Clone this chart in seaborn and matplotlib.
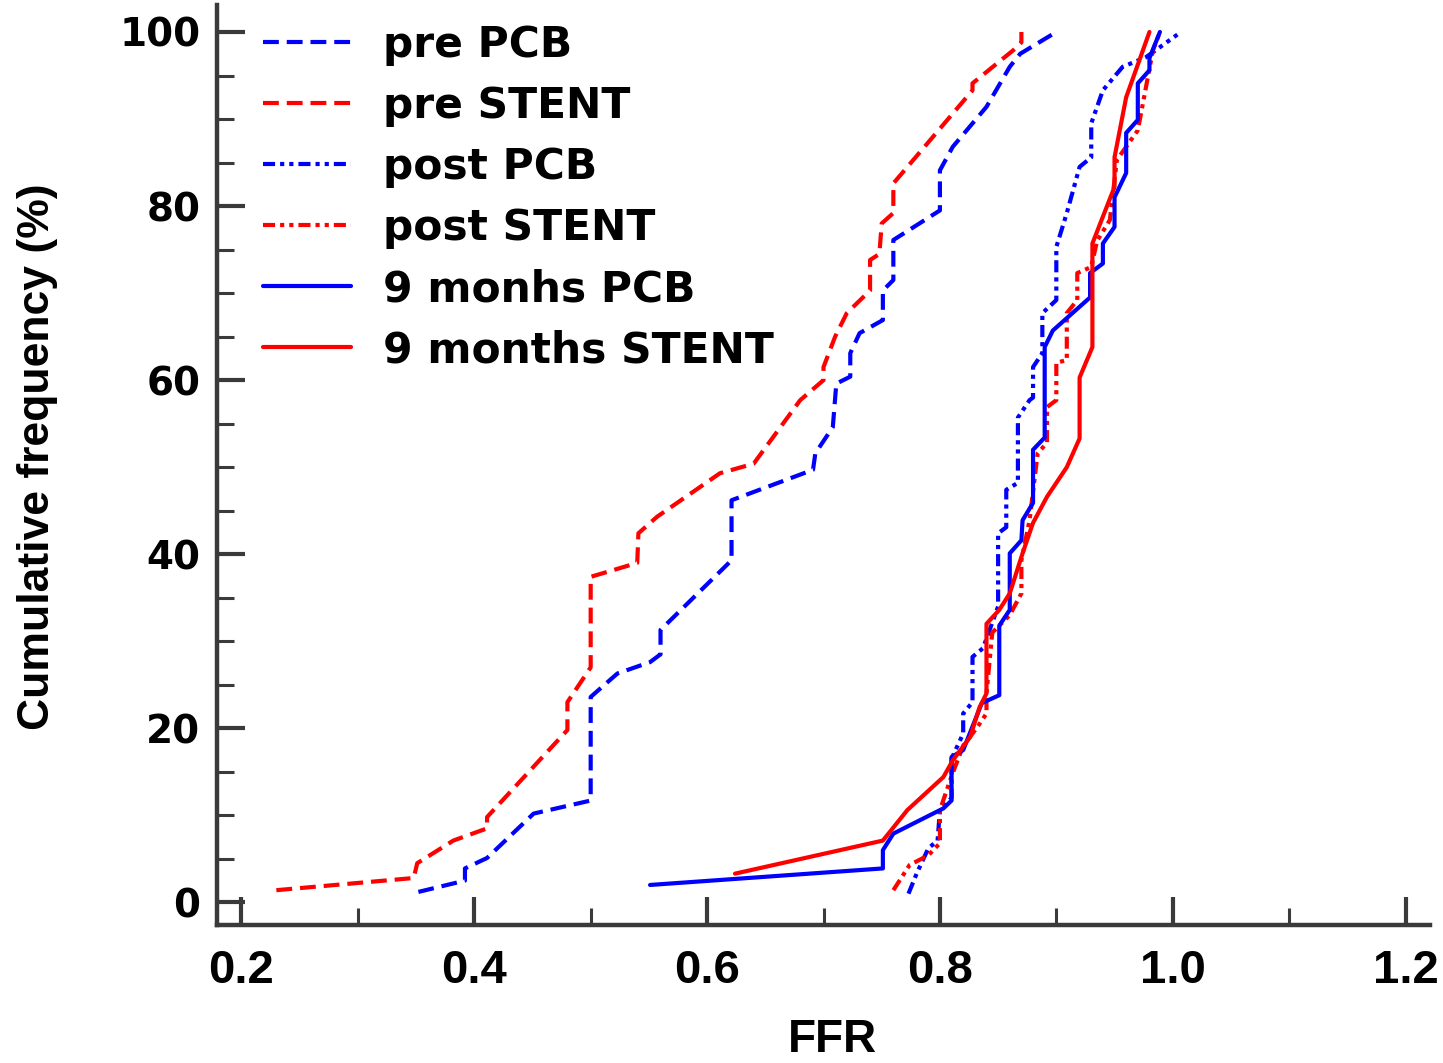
import matplotlib
matplotlib.use("Agg")
import matplotlib.pyplot as plt
import seaborn as sns
import pandas as pd
from matplotlib.ticker import MultipleLocator
from matplotlib.lines import Line2D

# ---------------- data ----------------
series_names = ["pre PCB", "pre STENT", "post PCB", "post STENT",
                "9 monhs PCB", "9 months STENT"]

pre_pcb_ffr = [0.352, 0.392, 0.392, 0.411, 0.451, 0.50, 0.50, 0.523, 0.551, 0.56, 0.56,
               0.621, 0.621, 0.651, 0.691, 0.693, 0.708, 0.711, 0.723, 0.723, 0.731,
               0.751, 0.751, 0.76, 0.76, 0.80, 0.80, 0.811, 0.84, 0.86, 0.869, 0.90]
pre_pcb_cum = [1.2, 2.5, 3.9, 5.1, 10.2, 11.7, 23.6, 26.3, 27.6, 28.5, 31.3,
               39.3, 46.2, 47.7, 49.7, 51.6, 54.6, 59.6, 60.4, 63.1, 65.4,
               66.9, 70.3, 71.5, 76.1, 79.5, 84.1, 86.8, 91.4, 96.0, 97.5, 100.0]

pre_stent_ffr = [0.23, 0.348, 0.351, 0.382, 0.411, 0.411, 0.48, 0.48, 0.50, 0.50, 0.54,
                 0.541, 0.557, 0.611, 0.64, 0.68, 0.70, 0.70, 0.71, 0.72, 0.74, 0.74,
                 0.748, 0.75, 0.76, 0.76, 0.828, 0.828, 0.863, 0.87, 0.87]
pre_stent_cum = [1.4, 2.8, 4.5, 7.1, 8.5, 9.8, 19.8, 23.0, 27.0, 37.4, 39.0,
                 42.4, 44.3, 49.3, 50.4, 57.7, 60.0, 61.5, 65.0, 67.7, 70.3, 73.8,
                 74.5, 78.0, 79.2, 82.6, 93.3, 94.1, 97.9, 98.8, 100.0]

post_pcb_ffr = [0.773, 0.78, 0.79, 0.798, 0.80, 0.81, 0.81, 0.82, 0.82, 0.828, 0.828,
                0.837, 0.85, 0.85, 0.857, 0.857, 0.867, 0.867, 0.877, 0.88, 0.88,
                0.888, 0.888, 0.90, 0.90, 0.909, 0.92, 0.93, 0.93, 0.94, 0.957,
                0.977, 1.004]
post_pcb_cum = [1.0, 3.3, 6.2, 7.1, 10.6, 12.0, 16.5, 19.4, 21.7, 23.0, 28.2,
                29.2, 34.0, 42.4, 43.1, 47.4, 48.2, 55.7, 57.7, 58.0, 61.5,
                63.1, 67.7, 69.2, 75.3, 79.2, 84.5, 85.6, 89.5, 93.3, 96.0,
                97.1, 99.7]

post_stent_ffr = [0.76, 0.774, 0.79, 0.80, 0.80, 0.81, 0.82, 0.832, 0.84, 0.84, 0.845,
                  0.86, 0.87, 0.87, 0.877, 0.884, 0.892, 0.892, 0.90, 0.90, 0.909,
                  0.909, 0.918, 0.918, 0.93, 0.935, 0.946, 0.952, 0.97, 0.983, 0.989]
post_stent_cum = [1.4, 4.3, 5.4, 6.8, 10.6, 14.5, 18.0, 20.1, 21.7, 24.0, 31.0,
                  33.0, 35.5, 39.3, 43.9, 51.6, 52.8, 56.9, 57.7, 62.0, 62.3,
                  67.7, 69.2, 72.3, 73.0, 76.0, 78.4, 85.3, 88.7, 97.9, 100.0]

m9_pcb_ffr = [0.551, 0.751, 0.751, 0.76, 0.803, 0.81, 0.81, 0.82, 0.836, 0.851, 0.851,
              0.86, 0.86, 0.87, 0.871, 0.88, 0.88, 0.89, 0.89, 0.897, 0.929, 0.929,
              0.94, 0.94, 0.95, 0.95, 0.96, 0.96, 0.97, 0.97, 0.98, 0.98, 0.989]
m9_pcb_cum = [2.0, 3.9, 6.0, 7.9, 10.8, 11.7, 16.7, 17.5, 22.9, 23.8, 31.8,
              33.6, 40.1, 41.6, 43.9, 45.9, 52.0, 53.4, 63.8, 65.7, 69.5, 72.3,
              73.4, 75.7, 77.6, 81.0, 83.8, 88.4, 89.9, 94.1, 95.6, 97.0, 100.0]

m9_stent_ffr = [0.624, 0.751, 0.772, 0.803, 0.811, 0.826, 0.834, 0.84, 0.84, 0.851,
                0.86, 0.871, 0.88, 0.892, 0.909, 0.92, 0.92, 0.931, 0.931, 0.95,
                0.95, 0.96, 0.98]
m9_stent_cum = [3.3, 7.1, 10.6, 14.4, 16.3, 19.0, 22.4, 24.0, 32.0, 33.6,
                35.5, 40.1, 43.6, 46.6, 50.0, 53.3, 60.3, 63.8, 75.7, 82.2,
                85.6, 92.5, 100.0]

x_ticks = [0.2, 0.4, 0.6, 0.8, 1.0, 1.2]
x_tick_labels = ["0.2", "0.4", "0.6", "0.8", "1.0", "1.2"]
y_ticks = [0, 20, 40, 60, 80, 100]
y_tick_labels = ["0", "20", "40", "60", "80", "100"]

# ---------------- styling ----------------
BLUE = "#0000FF"
RED = "#FF0000"
palette = {"pre PCB": BLUE, "pre STENT": RED, "post PCB": BLUE,
           "post STENT": RED, "9 monhs PCB": BLUE, "9 months STENT": RED}
dash_pat = (3.8, 1.9)
dashdot_pat = (2.9, 1.2, 1.0, 1.2, 1.0, 1.2)
dashes = {"pre PCB": dash_pat, "pre STENT": dash_pat, "post PCB": dashdot_pat,
          "post STENT": dashdot_pat, "9 monhs PCB": "", "9 months STENT": ""}

frames = []
for name, xs, ys in zip(series_names,
                        [pre_pcb_ffr, pre_stent_ffr, post_pcb_ffr, post_stent_ffr,
                         m9_pcb_ffr, m9_stent_ffr],
                        [pre_pcb_cum, pre_stent_cum, post_pcb_cum, post_stent_cum,
                         m9_pcb_cum, m9_stent_cum]):
    frames.append(pd.DataFrame({"FFR": xs, "cum": ys, "series": name}))
df = pd.concat(frames, ignore_index=True)

sns.set_theme(style="white")
plt.rcParams["font.family"] = ["DejaVu Sans"]
plt.rcParams["text.color"] = "black"

W, H = 1443, 1063
fig = plt.figure(figsize=(W / 100, H / 100), dpi=100)
ax = fig.add_axes([217 / W, (H - 925) / H, (1430 - 217) / W, (925 - 5) / H])

sns.lineplot(data=df, x="FFR", y="cum", hue="series", style="series",
             hue_order=series_names, style_order=series_names,
             palette=palette, dashes=dashes, sort=False, estimator=None,
             linewidth=3, ax=ax, legend=False)

ax.set_xlim(0.179, 1.221)
ax.set_ylim(-2.6, 103.1)
ax.set_xlabel("")
ax.set_ylabel("")

for s in ["top", "right"]:
    ax.spines[s].set_visible(False)
for s in ["left", "bottom"]:
    ax.spines[s].set_linewidth(3.2)
    ax.spines[s].set_color("#3a3a3a")

ax.set_xticks(x_ticks)
ax.set_xticklabels(x_tick_labels, fontsize=34, fontweight="bold",
                   family=["Liberation Sans"], color="black")
ax.set_yticks(y_ticks)
ax.set_yticklabels(y_tick_labels, fontsize=28, fontweight="bold",
                   family=["DejaVu Sans"], color="black")
ax.xaxis.set_minor_locator(MultipleLocator(0.1))
ax.yaxis.set_minor_locator(MultipleLocator(5))
ax.tick_params(which="major", direction="in", length=20, width=3, color="#3a3a3a")
ax.tick_params(which="minor", direction="in", length=12, width=2.2, color="#3a3a3a")
ax.tick_params(axis="x", which="major", pad=17)
ax.tick_params(axis="y", which="major", pad=12)
ax.tick_params(bottom=True, left=True, which="both")

fig.text(832 / W, 1 - 1040 / H, "FFR", ha="center", va="center", color="black",
         fontsize=33, fontweight="bold", family=["Liberation Sans"])
fig.text(38 / W, 1 - 457 / H, "Cumulative frequency (%)", ha="center", va="center",
         rotation=90, fontsize=32, fontweight="bold", family=["Liberation Sans"],
         color="black")

handles = []
for name in series_names:
    d = dashes[name]
    if d == "":
        h = Line2D([], [], color=palette[name], lw=3, linestyle="-")
    else:
        h = Line2D([], [], color=palette[name], lw=3, dashes=d)
    handles.append(h)
leg = fig.legend(handles, series_names, loc="upper left",
                 bbox_to_anchor=(263 / W, 1 - 24 / H), frameon=False,
                 prop={"family": "DejaVu Sans", "weight": "bold", "size": 30.5},
                 handlelength=2.08, handletextpad=0.75, labelspacing=0.45,
                 borderpad=0, borderaxespad=0)
for t in leg.get_texts():
    t.set_color("black")

fig.savefig("out.png", dpi=100)
